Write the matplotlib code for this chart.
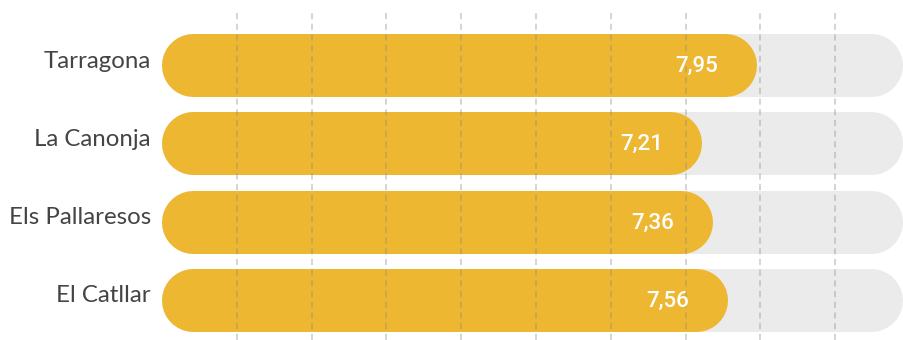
import matplotlib.pyplot as plt

# data
towns = ["Tarragona", "La Canonja", "Els Pallaresos", "El Catllar"]
scores = [7.95, 7.21, 7.36, 7.56]
score_labels = ["7,95", "7,21", "7,36", "7,56"]
track_max = 9.9
grid_ticks = [1, 2, 3, 4, 5, 6, 7, 8, 9]

GOLD = "#EDB731"
TRACK = "#EBEBEB"


def pill(ax, y, width, thick_px, px_x, color, zorder):
    # thick line with round caps -> pill shaped bar from 0 to width
    r = thick_px / 2 / px_x
    ax.plot([r, width - r], [y, y], color=color, linewidth=thick_px * 0.72,
            solid_capstyle="round", zorder=zorder)


def build_chart():
    W, H = 904, 340
    fig = plt.figure(figsize=(W / 100, H / 100), dpi=100)
    x_left = 162
    ax = fig.add_axes([x_left / W, 0, (W - x_left) / W, 1])

    px_x = 74.8   # pixels per score unit
    px_y = 78.3   # pixels per row
    top_center = 65
    ax.set_xlim(0, (W - x_left) / px_x)
    ax.set_ylim((H - top_center) / px_y, -top_center / px_y)
    ax.axis("off")

    bar_px = 63

    for i, (town, val, lab) in enumerate(zip(towns, scores, score_labels)):
        pill(ax, i, track_max, bar_px, px_x, TRACK, 1)
        pill(ax, i, val, bar_px, px_x, GOLD, 2)
        ax.text(val - 0.8, i + 0.02, lab, ha="center", va="center",
                color="white", fontsize=16, fontweight="medium",
                family="Roboto", zorder=5)
        fig.text((x_left - 11) / W, 1 - (top_center + i * px_y - 4) / H, town,
                 ha="right", va="center", color="#444444", fontsize=17.3,
                 family="Lato")

    ax.vlines(grid_ticks, -52 / px_y, (H - top_center) / px_y,
              colors="#888888", alpha=0.45, linewidth=1.1,
              linestyles=(0, (4, 3)), zorder=3)

    fig.savefig("out.png", dpi=100)


if __name__ == '__main__':
    build_chart()
